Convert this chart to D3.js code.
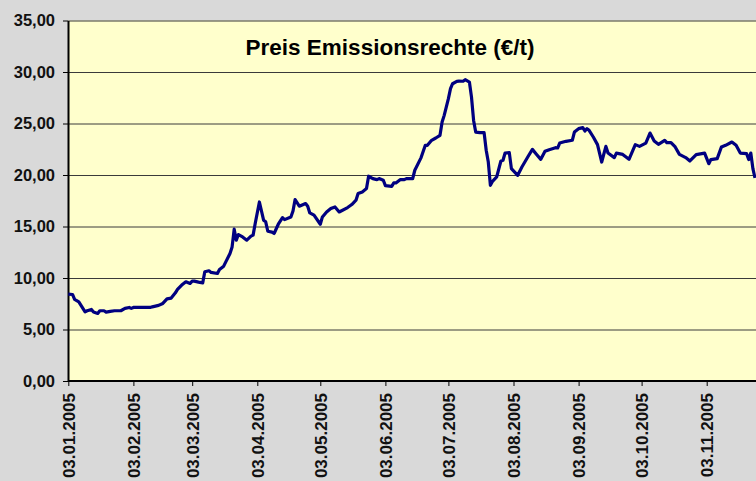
<!DOCTYPE html>
<html>
<head>
<meta charset="utf-8">
<script src="https://cdn.jsdelivr.net/npm/d3@7"></script>
<style>
    html, body { margin: 0; padding: 0; background: #d9d9d9; overflow: hidden; }
    svg { display: block; font-family: "Liberation Sans", Arial, sans-serif; font-weight: bold; }
</style>
</head>
<body>
<svg id="chart" width="756" height="481"></svg>
<script>
// Kurs der Emissionsrechte 2005
const dates = [
    "03.01.2005", "05.01.2005", "06.01.2005", "08.01.2005", "11.01.2005", "12.01.2005", "14.01.2005", "15.01.2005",
    "17.01.2005", "18.01.2005", "20.01.2005", "21.01.2005", "23.01.2005", "25.01.2005", "28.01.2005", "30.01.2005",
    "01.02.2005", "02.02.2005", "03.02.2005", "11.02.2005", "12.02.2005", "15.02.2005", "17.02.2005", "19.02.2005",
    "21.02.2005", "23.02.2005", "24.02.2005", "26.02.2005", "28.02.2005", "02.03.2005", "03.03.2005", "04.03.2005",
    "06.03.2005", "08.03.2005", "09.03.2005", "11.03.2005", "12.03.2005", "15.03.2005", "16.03.2005", "18.03.2005",
    "19.03.2005", "21.03.2005", "22.03.2005", "23.03.2005", "24.03.2005", "25.03.2005", "27.03.2005", "29.03.2005",
    "31.03.2005", "01.04.2005", "02.04.2005", "04.04.2005", "06.04.2005", "07.04.2005", "08.04.2005", "10.04.2005",
    "11.04.2005", "13.04.2005", "15.04.2005", "16.04.2005", "19.04.2005", "20.04.2005", "21.04.2005", "23.04.2005",
    "26.04.2005", "27.04.2005", "28.04.2005", "30.04.2005", "03.05.2005", "04.05.2005", "06.05.2005", "08.05.2005",
    "10.05.2005", "12.05.2005", "16.05.2005", "18.05.2005", "20.05.2005", "21.05.2005", "23.05.2005", "25.05.2005",
    "26.05.2005", "28.05.2005", "30.05.2005", "31.05.2005", "02.06.2005", "03.06.2005", "06.06.2005", "07.06.2005",
    "08.06.2005", "10.06.2005", "12.06.2005", "13.06.2005", "16.06.2005", "17.06.2005", "20.06.2005", "22.06.2005",
    "23.06.2005", "25.06.2005", "27.06.2005", "29.06.2005", "30.06.2005", "01.07.2005", "03.07.2005", "04.07.2005",
    "05.07.2005", "07.07.2005", "08.07.2005", "10.07.2005", "11.07.2005", "13.07.2005", "14.07.2005", "15.07.2005",
    "16.07.2005", "18.07.2005", "20.07.2005", "21.07.2005", "22.07.2005", "23.07.2005", "24.07.2005", "26.07.2005",
    "28.07.2005", "29.07.2005", "30.07.2005", "01.08.2005", "02.08.2005", "05.08.2005", "07.08.2005", "10.08.2005",
    "12.08.2005", "14.08.2005", "16.08.2005", "18.08.2005", "20.08.2005", "23.08.2005", "24.08.2005", "25.08.2005",
    "28.08.2005", "31.08.2005", "01.09.2005", "03.09.2005", "05.09.2005", "06.09.2005", "07.09.2005", "08.09.2005",
    "10.09.2005", "12.09.2005", "14.09.2005", "16.09.2005", "17.09.2005", "20.09.2005", "21.09.2005", "24.09.2005",
    "27.09.2005", "30.09.2005", "02.10.2005", "05.10.2005", "07.10.2005", "09.10.2005", "11.10.2005", "14.10.2005",
    "15.10.2005", "17.10.2005", "19.10.2005", "21.10.2005", "24.10.2005", "26.10.2005", "29.10.2005", "02.11.2005",
    "04.11.2005", "05.11.2005", "08.11.2005", "10.11.2005", "12.11.2005", "15.11.2005", "17.11.2005", "19.11.2005",
    "22.11.2005", "23.11.2005", "24.11.2005", "25.11.2005", "26.11.2005"
];
const prices = [
    8.43, 8.40, 7.92, 7.69, 6.72, 6.82, 6.95, 6.69,
    6.56, 6.82, 6.82, 6.69, 6.76, 6.82, 6.82, 7.05,
    7.14, 7.05, 7.14, 7.14, 7.20, 7.34, 7.53, 7.98,
    8.05, 8.56, 8.89, 9.31, 9.63, 9.47, 9.70, 9.70,
    9.60, 9.53, 10.60, 10.70, 10.54, 10.44, 10.83, 11.15,
    11.57, 12.38, 13.02, 14.74, 13.67, 14.22, 13.99, 13.67,
    14.06, 14.16, 15.29, 17.38, 15.61, 15.45, 14.54, 14.45,
    14.32, 15.22, 15.86, 15.67, 15.93, 16.51, 17.62, 16.97,
    17.23, 16.97, 16.32, 16.10, 15.22, 15.93, 16.41, 16.74,
    16.90, 16.41, 16.84, 17.13, 17.55, 18.20, 18.36, 18.68,
    19.88, 19.65, 19.55, 19.65, 19.49, 18.97, 18.90, 19.23,
    19.23, 19.55, 19.55, 19.65, 19.65, 20.46, 21.69, 22.88,
    22.88, 23.37, 23.59, 23.85, 25.14, 25.79, 27.41, 28.38,
    28.86, 29.09, 29.12, 29.10, 29.25, 29.02, 27.56, 25.30,
    24.17, 24.11, 24.11, 22.40, 21.26, 19.00, 19.39, 19.81,
    21.36, 21.43, 22.13, 22.17, 20.62, 19.97, 20.78, 21.82,
    22.49, 22.00, 21.52, 22.30, 22.46, 22.65, 22.62, 23.10,
    23.27, 23.37, 24.17, 24.50, 24.60, 24.27, 24.50, 24.34,
    23.69, 22.95, 21.26, 22.78, 22.13, 21.69, 22.13, 22.00,
    21.52, 22.95, 22.78, 23.10, 24.07, 23.30, 22.98, 23.37,
    23.14, 23.14, 22.72, 22.00, 21.69, 21.36, 21.98, 22.13,
    21.10, 21.50, 21.59, 22.72, 22.88, 23.20, 22.88, 22.13,
    22.07, 21.50, 22.13, 20.62, 19.71
];
const tickDates = [
    "03.01.2005", "03.02.2005", "03.03.2005", "03.04.2005", "03.05.2005", "03.06.2005",
    "03.07.2005", "03.08.2005", "03.09.2005", "03.10.2005", "03.11.2005"
];
const yTicks = [0, 5, 10, 15, 20, 25, 30, 35];
const title = "Preis Emissionsrechte (€/t)";

const parse = d3.utcParse("%d.%m.%Y");
const fmtDate = d3.utcFormat("%d.%m.%Y");
const fmtNum = d3.formatLocale({ decimal: ",", thousands: ".", grouping: [3], currency: ["", " €"] }).format(".2f");

const svg = d3.select("#chart");
const plot = { left: 68, top: 20.5, right: 762, bottom: 381 };

const x = d3.scaleUtc()
    .domain([parse(tickDates[0]), parse(tickDates[tickDates.length - 1])])
    .range([68.3, 706.7]);
const y = d3.scaleLinear().domain([0, 35]).range([plot.bottom, plot.top]);

const data = dates.map((d, i) => ({ date: parse(d), value: prices[i] }));

// Zeichenfläche
svg.append("rect")
    .attr("x", plot.left).attr("y", plot.top)
    .attr("width", plot.right - plot.left).attr("height", plot.bottom - plot.top)
    .attr("fill", "#ffffcc");

// Gitterlinien
svg.append("g")
    .attr("transform", `translate(${plot.left},0)`)
    .call(d3.axisLeft(y).tickValues(yTicks.slice(1)).tickSize(-(plot.right - plot.left)).tickFormat(""))
    .call(g => g.select(".domain").remove())
    .call(g => g.selectAll("line").attr("stroke", "#3a3a3a").attr("stroke-width", 1));

// Y-Achse
const yAxis = svg.append("g")
    .attr("transform", `translate(${plot.left},0)`)
    .call(d3.axisLeft(y).tickValues(yTicks).tickSize(5).tickSizeOuter(0).tickPadding(8).tickFormat(fmtNum));
yAxis.select(".domain").attr("stroke", "#000").attr("stroke-width", 2);
yAxis.selectAll("line").attr("stroke", "#000");
yAxis.selectAll("text").attr("fill", "#111").style("font-size", "16.5px").style("font-weight", "bold")
    .style("font-family", "'Liberation Sans', Arial, sans-serif");

// X-Achse
const xAxis = svg.append("g")
    .attr("transform", `translate(0,${plot.bottom})`)
    .call(d3.axisBottom(x).tickValues(tickDates.map(parse)).tickSize(5).tickSizeOuter(0).tickFormat(fmtDate));
xAxis.select(".domain").attr("d", `M${plot.left},0H${plot.right}`).attr("stroke", "#000").attr("stroke-width", 2);
xAxis.selectAll(".tick line").attr("stroke", "#000");
xAxis.selectAll("text")
    .attr("fill", "#111")
    .attr("transform", "rotate(-90)")
    .attr("x", -12).attr("y", 0).attr("dy", "0.35em")
    .attr("text-anchor", "end")
    .style("font-size", "17px").style("font-weight", "bold")
    .style("font-family", "'Liberation Sans', Arial, sans-serif");

// Kurslinie
const line = d3.line().x(d => x(d.date)).y(d => y(d.value));
svg.append("path")
    .datum(data)
    .attr("d", line)
    .attr("fill", "none")
    .attr("stroke", "#000080")
    .attr("stroke-width", 3.2)
    .attr("stroke-linejoin", "round");

// Titel
svg.append("text")
    .attr("x", 390).attr("y", 55)
    .attr("text-anchor", "middle")
    .attr("fill", "#000")
    .style("font-size", "22.5px")
    .text(title);
</script>
</body>
</html>
